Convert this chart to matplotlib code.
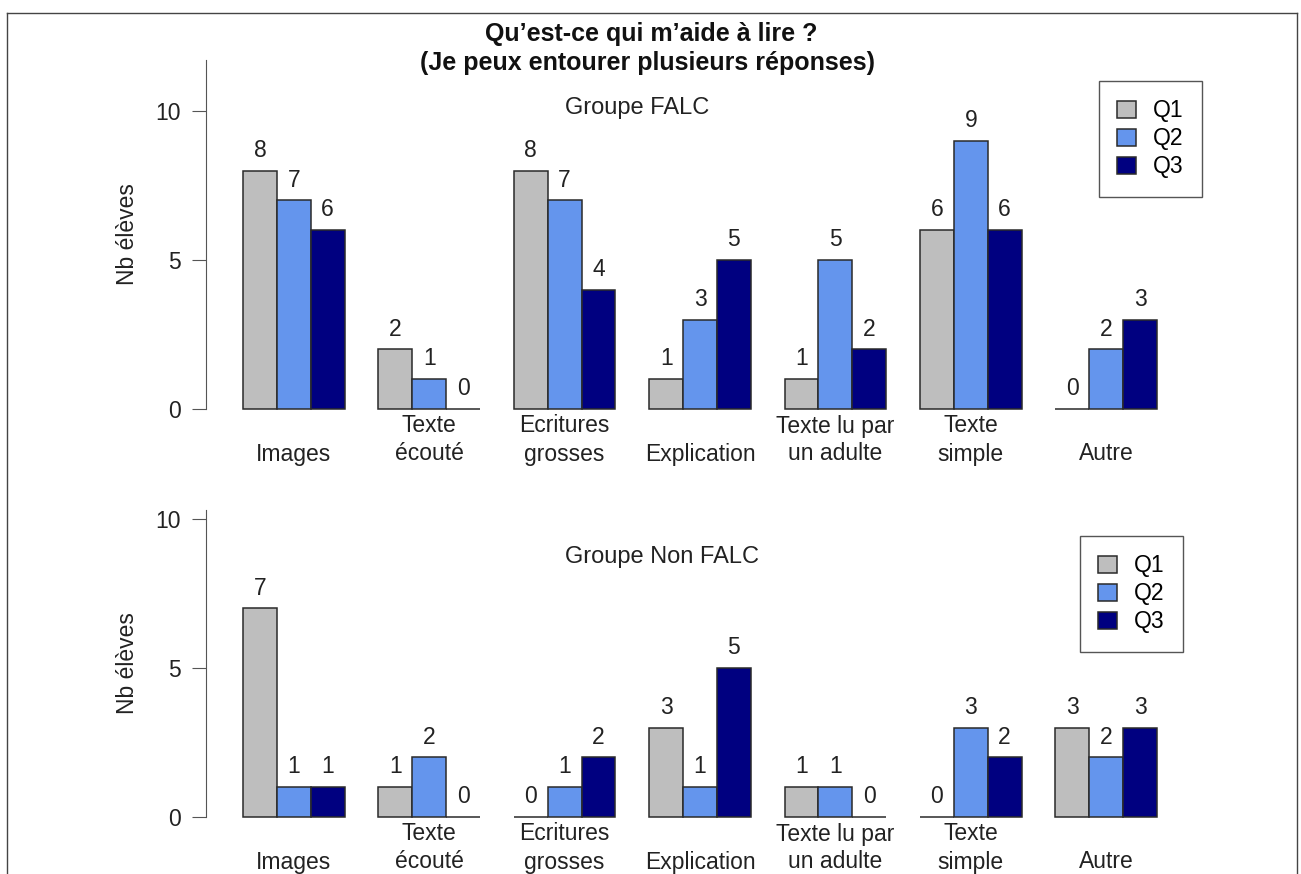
import numpy as np
from matplotlib import pyplot as plt
from matplotlib.lines import Line2D

plt.rcParams['font.family'] = ['Liberation Sans', 'DejaVu Sans']

categories = ['Images', 'Texte\nécouté', 'Ecritures\ngrosses', 'Explication',
              'Texte lu par\nun adulte', 'Texte\nsimple', 'Autre']
series = ['Q1', 'Q2', 'Q3']
colors = ['#bebebe', '#6495ed', '#000080']

falc_q1 = [8, 2, 8, 1, 1, 6, 0]
falc_q2 = [7, 1, 7, 3, 5, 9, 2]
falc_q3 = [6, 0, 4, 5, 2, 6, 3]

nonfalc_q1 = [7, 1, 0, 3, 1, 0, 3]
nonfalc_q2 = [1, 2, 1, 1, 1, 3, 2]
nonfalc_q3 = [1, 0, 2, 5, 0, 2, 3]

W, H = 1301, 874
fs = 16.5
px = 72 / 100  # points per pixel


def fx(p):
    return p / W


def fy(p):
    return 1 - p / H


fig = plt.figure(figsize=(W / 100, H / 100), dpi=100)

# frame around the page (bottom is cut off)
for xs, ys in [([7, 1297], [13, 13]), ([7, 7], [13, H]), ([1297, 1297], [13, H])]:
    fig.add_artist(Line2D([fx(x) for x in xs], [fy(y) for y in ys], color='#444444', lw=1))

fig.text(fx(651), fy(34), 'Qu’est-ce qui m’aide à lire ?', ha='center', va='center',
         fontsize=18, fontweight='bold', color='#111111')
fig.text(fx(648), fy(63), '(Je peux entourer plusieurs réponses)', ha='center', va='center',
         fontsize=18, fontweight='bold', color='#111111')

x0_px, unit_px = 209.15, 33.85
left_px, right_px = 206, 1297

panels = [
    # (values, axis top px, zero px, group title, title y, legend box top-left)
    ([falc_q1, falc_q2, falc_q3], 60, 409, 'Groupe FALC', 108, (1099, 81)),
    ([nonfalc_q1, nonfalc_q2, nonfalc_q3], 510, 817, 'Groupe Non FALC', 557, (1080, 536)),
]

for vals, top_px, zero_px, gtitle, gt_y, leg_xy in panels:
    ax = fig.add_axes([fx(left_px), fy(zero_px), (right_px - left_px) / W, (zero_px - top_px) / H])
    ppu = 29.8
    ax.set_ylim(0, (zero_px - top_px) / ppu)
    ax.set_xlim((left_px - x0_px) / unit_px, (right_px - x0_px) / unit_px)

    handles = []
    for s, (v, c) in enumerate(zip(vals, colors)):
        lefts = 4 * np.arange(len(categories)) + 1 + s
        b = ax.bar(lefts, v, width=1, align='edge', color=c, edgecolor='#2a2a2a',
                   linewidth=1.1, label=series[s], clip_on=False)
        handles.append(b)
        for xl, h in zip(lefts, v):
            ax.annotate(str(h), xy=(xl + 0.5, h), xytext=(0, 10), textcoords='offset points',
                        ha='center', va='baseline', fontsize=fs, color='#222222')

    # category labels, aligned on the last line
    for g, cat in enumerate(categories):
        lines = cat.split('\n')
        for i, line in enumerate(reversed(lines)):
            ax.annotate(line, xy=(4 * g + 2.5, 0), xycoords=('data', 'axes fraction'),
                        xytext=(0, (-45 + 28 * i) * px), textcoords='offset points',
                        ha='center', va='center', fontsize=fs, color='#222222')

    for sp in ['top', 'right', 'bottom']:
        ax.spines[sp].set_visible(False)
    ax.spines['left'].set_color('#555555')
    ax.set_xticks([])
    ax.set_yticks([0, 5, 10])
    ax.tick_params(axis='y', length=14 * px, pad=11 * px, labelsize=fs, color='#555555',
                   labelcolor='#222222')

    fig.text(fx(127), fy((top_px + zero_px) / 2), 'Nb élèves', rotation=90, ha='center',
             va='center', fontsize=fs, color='#222222')
    fig.text(fx(565), fy(gt_y), gtitle, ha='left', va='center', fontsize=17, color='#222222')

    leg = ax.legend(handles=handles, loc='upper left',
                    bbox_to_anchor=(fx(leg_xy[0]), fy(leg_xy[1])), bbox_transform=fig.transFigure,
                    fontsize=fs, frameon=True, fancybox=False, framealpha=1, borderaxespad=0,
                    handlelength=0.8, handleheight=0.8, handletextpad=0.75,
                    borderpad=0.8, labelspacing=0.22)
    leg.get_frame().set_edgecolor('#555555')
    leg.get_frame().set_linewidth(1)

fig.savefig('out.png', dpi=100)
